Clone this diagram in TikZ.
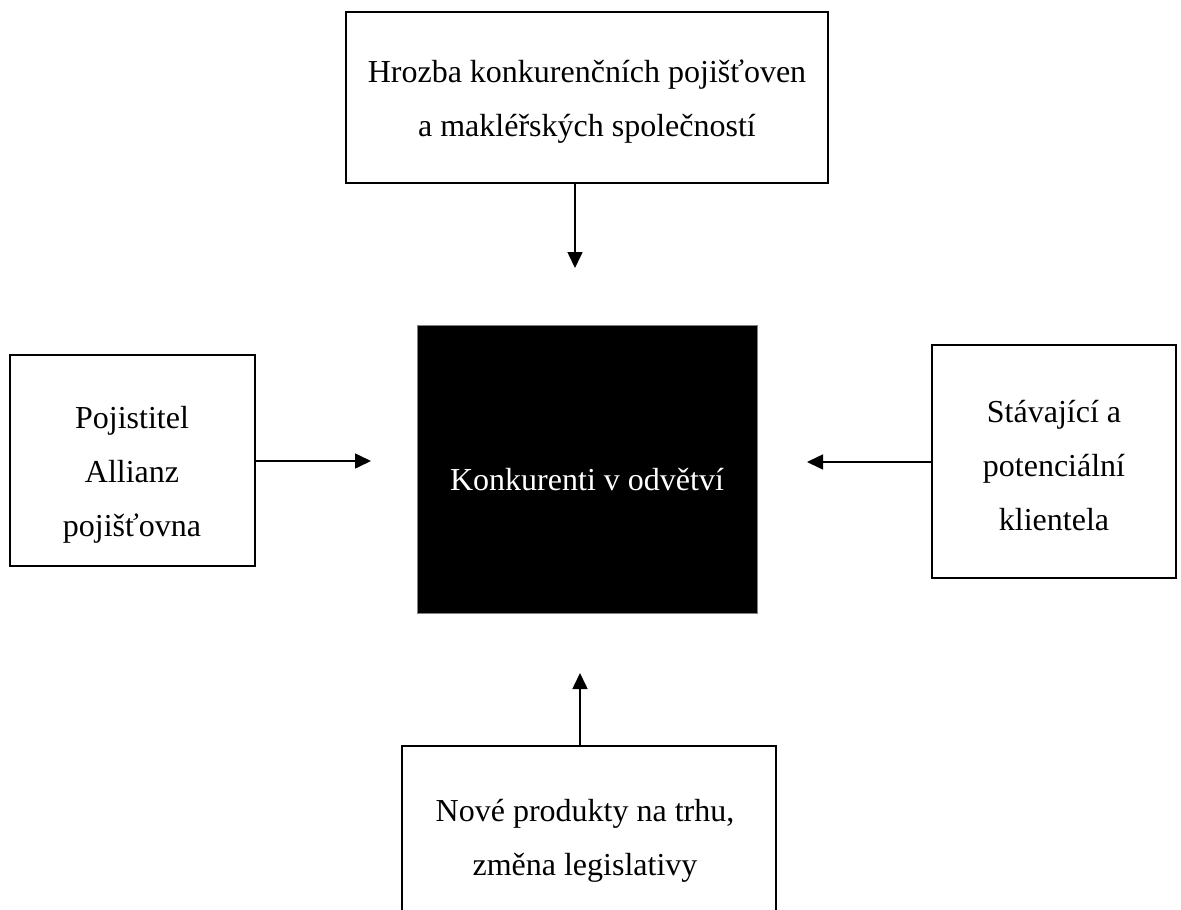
\documentclass[tikz,border=0pt]{standalone}
\usepackage{fontspec}
\setmainfont{Liberation Serif}
\usetikzlibrary{arrows.meta}
\begin{document}
\begin{tikzpicture}[x=1pt,y=-1pt,
  boxnode/.style={draw=black,line width=2.8pt,inner sep=0pt,fill=white},
  txt/.style={align=center,font=\fontsize{32}{54}\selectfont,inner sep=0pt},
  arr/.style={line width=1.6pt,-{Triangle[length=16pt,width=15pt]}}]
\useasboundingbox (0,0) rectangle (1181,910);
% boxes
\node[boxnode,minimum width=482pt,minimum height=171pt] (top) at (587,97.5) {};
\node[boxnode,minimum width=245pt,minimum height=211pt] (left) at (132.5,460.5) {};
\node[boxnode,minimum width=244pt,minimum height=233pt] (right) at (1054,461.5) {};
\node[boxnode,minimum width=374pt,minimum height=200pt] (bottom) at (589,846) {};
\node[draw=gray,line width=0.8pt,fill=black,inner sep=0pt,minimum width=340pt,minimum height=288pt] (center) at (587,469) {};
% texts
\node[txt] (toptext) at (587,101.5) {Hrozba konkurenčních pojišťoven\\a makléřských společností};
\node[txt] (lefttext) at (132,474.5) {Pojistitel\\Allianz\\pojišťovna};
\node[txt] (righttext) at (1054,466) {Stávající a\\potenciální\\klientela};
\node[txt] (bottomtext) at (585,840.5) {Nové produkty na trhu,\\změna legislativy};
\node[txt,text=white] (centertext) at (587,480) {Konkurenti v odvětví};
% arrow ends
\coordinate (topend) at (575,268);
\coordinate (leftend) at (371,461);
\coordinate (rightend) at (807,462);
\coordinate (bottomend) at (580,673);
\draw[arr] (top.south -| topend) -- (topend);
\draw[arr] (left.east |- leftend) -- (leftend);
\draw[arr] (right.west |- rightend) -- (rightend);
\draw[arr] (bottom.north -| bottomend) -- (bottomend);
\end{tikzpicture}
\end{document}
